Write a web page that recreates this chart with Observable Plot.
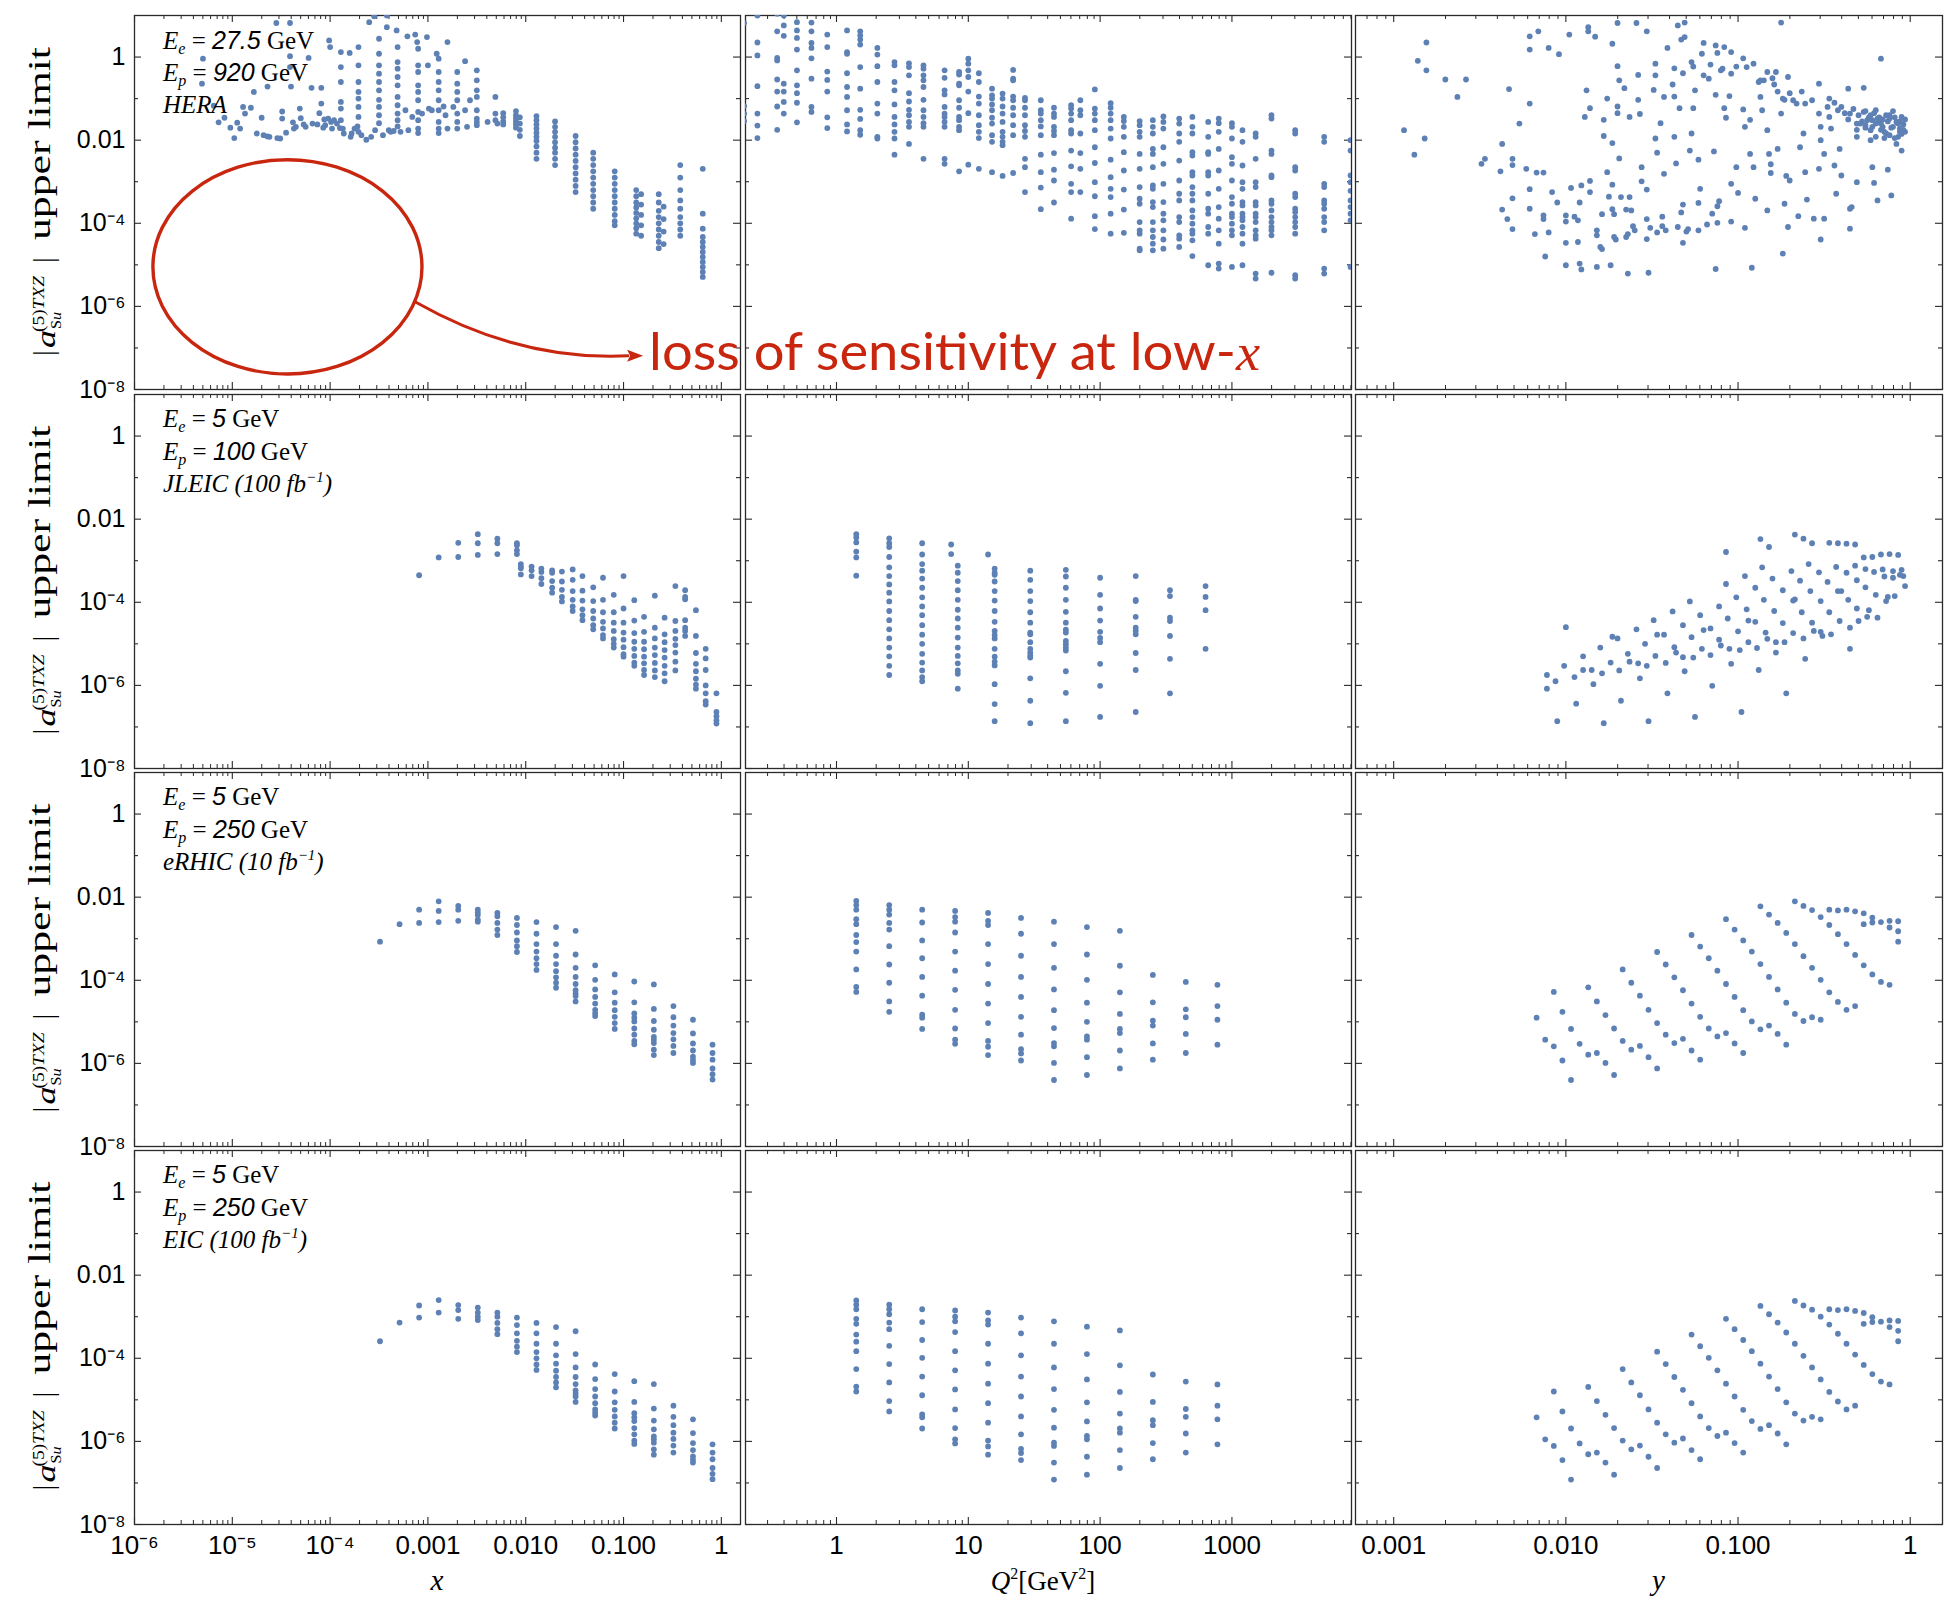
<!DOCTYPE html>
<html><head><meta charset="utf-8">
<script src="https://cdn.jsdelivr.net/npm/d3@7"></script>
<script src="https://cdn.jsdelivr.net/npm/@observablehq/plot@0.6"></script>
<style>
html,body{margin:0;padding:0;background:#fff;}
#root{position:relative;width:1946px;height:1602px;overflow:hidden;background:#fff;}
</style></head><body><div id="root"></div>
<script>
// ---------------- DATA (log10 values) ----------------
// Row 1: HERA  (Ee = 27.5 GeV, Ep = 920 GeV)
const heraXPairs = [[-5.30,-0.04],[-5.31,-0.64],[-5.19,-1.17],[-5.14,-1.57],[-5.08,-1.46],[-5.02,-1.70],[-4.98,-1.95],[-4.95,-1.58],[-4.92,-1.72],[-4.89,-1.20],[-4.87,-1.36],[-4.81,-1.22],[-4.78,-0.84],[-4.75,-1.84],[-4.70,-1.46],[-4.68,-1.88],[-4.64,-0.71],[-4.64,-1.91],[-4.62,-1.92],[-4.55,0.82],[-4.54,-1.95],[-4.51,-1.96],[-4.49,-1.31],[-4.49,-1.48],[-4.45,-1.82],[-4.41,0.82],[-4.41,0.02],[-4.41,-0.24],[-4.40,-0.71],[-4.38,-1.57],[-4.37,-1.72],[-4.35,-1.68],[-4.31,-1.24],[-4.30,-1.47],[-4.27,-1.62],[-4.25,-1.68],[-4.22,-0.02],[-4.19,-0.74],[-4.18,-1.60],[-4.13,-1.62],[-4.11,-1.35],[-4.09,-0.74],[-4.09,-1.12],[-4.07,-1.70],[-4.06,-1.50],[-4.05,-1.64],[-4.02,-1.48],[-4.01,0.40],[-4.00,0.24],[-3.99,-1.56],[-3.98,-1.72],[-3.96,-1.52],[-3.93,-1.60],[-3.90,-1.71],[-3.89,0.12],[-3.89,-0.24],[-3.89,-0.60],[-3.89,-1.08],[-3.89,-1.24],[-3.89,-1.52],[-3.87,-1.72],[-3.86,-1.84],[-3.80,0.10],[-3.79,-1.92],[-3.78,-1.84],[-3.75,-1.72],[-3.72,-1.67],[-3.71,0.24],[-3.71,-0.20],[-3.71,-0.60],[-3.71,-0.84],[-3.71,-1.00],[-3.71,-1.20],[-3.71,-1.44],[-3.71,-1.80],[-3.68,-1.88],[-3.63,-1.99],[-3.60,0.84],[-3.58,-1.92],[-3.55,0.98],[-3.54,-1.76],[-3.50,0.44],[-3.50,0.08],[-3.50,-0.20],[-3.50,-0.40],[-3.50,-0.60],[-3.50,-0.80],[-3.50,-1.03],[-3.50,-1.20],[-3.50,-1.40],[-3.50,-1.59],[-3.46,-1.88],[-3.42,1.00],[-3.42,0.72],[-3.40,-1.76],[-3.38,-1.80],[-3.35,-1.78],[-3.32,0.64],[-3.31,0.24],[-3.31,-0.12],[-3.31,-0.28],[-3.31,-0.48],[-3.31,-0.68],[-3.31,-0.96],[-3.31,-1.16],[-3.31,-1.36],[-3.31,-1.52],[-3.31,-1.67],[-3.28,-1.80],[-3.23,-1.28],[-3.21,0.50],[-3.20,-1.76],[-3.16,-1.44],[-3.13,0.54],[-3.11,0.36],[-3.10,0.20],[-3.10,-0.20],[-3.10,-0.36],[-3.10,-0.68],[-3.10,-0.84],[-3.10,-1.04],[-3.10,-1.32],[-3.10,-1.52],[-3.10,-1.72],[-3.10,-1.83],[-3.06,-1.36],[-3.01,0.48],[-3.00,-0.20],[-2.99,-1.24],[-2.96,-1.28],[-2.91,0.08],[-2.89,-0.04],[-2.89,-0.36],[-2.89,-0.60],[-2.89,-0.80],[-2.89,-1.04],[-2.89,-1.28],[-2.89,-1.56],[-2.89,-1.72],[-2.89,-1.83],[-2.84,-1.19],[-2.80,0.36],[-2.82,-1.40],[-2.80,-1.72],[-2.74,-1.20],[-2.70,-0.36],[-2.70,-0.64],[-2.70,-0.84],[-2.70,-1.04],[-2.70,-1.36],[-2.70,-1.56],[-2.70,-1.72],[-2.62,-0.10],[-2.62,-1.28],[-2.60,-1.68],[-2.57,-1.04],[-2.50,-0.32],[-2.50,-0.56],[-2.50,-0.80],[-2.50,-0.96],[-2.50,-1.28],[-2.50,-1.48],[-2.50,-1.56],[-2.50,-1.64],[-2.39,-1.56],[-2.31,-0.96],[-2.31,-1.36],[-2.31,-1.52],[-2.29,-1.60]];
const heraXCols = [
  [-2.23,[-1.35,-1.45,-1.55,-1.62]],
  [-2.10,[-1.30,-1.40,-1.48,-1.55,-1.62,-1.70]],
  [-2.06,[-1.45,-1.60,-1.75,-1.90]],
  [-1.89,[-1.42,-1.52,-1.62,-1.72,-1.82,-1.92,-2.02,-2.15,-2.30,-2.45]],
  [-1.70,[-1.55,-1.68,-1.80,-1.92,-2.05,-2.18,-2.30,-2.45,-2.60]],
  [-1.49,[-1.90,-2.05,-2.20,-2.35,-2.50,-2.65,-2.80,-2.95,-3.10,-3.25]],
  [-1.31,[-2.30,-2.45,-2.60,-2.75,-2.90,-3.05,-3.20,-3.35,-3.50,-3.65]],
  [-1.09,[-2.75,-2.90,-3.05,-3.20,-3.35,-3.50,-3.65,-3.80,-3.95,-4.05]],
  [-0.87,[-3.20,-3.35,-3.50,-3.62,-3.75,-3.88,-4.00,-4.12,-4.25]],
  [-0.82,[-3.30,-3.55,-3.80,-4.05,-4.30]],
  [-0.64,[-3.30,-3.50,-3.70,-3.85,-4.00,-4.15,-4.30,-4.45,-4.60]],
  [-0.59,[-3.60,-3.90,-4.20,-4.50]],
  [-0.42,[-2.60,-2.90,-3.20,-3.45,-3.65,-3.85,-4.00,-4.15,-4.30]],
  [-0.19,[-2.69,-3.77,-4.13,-4.33,-4.45,-4.57,-4.69,-4.81,-4.93,-5.05,-5.17,-5.29]]
];
const heraQ2Cols = [
  [-0.70,[0.82,-1.18,-1.36,-1.54]],
  [-0.60,[1.00,0.35,0.04,-0.70,-1.36,-1.65,-1.95]],
  [-0.45,[1.04,0.62,-0.02,-0.08,-0.54,-0.83,-1.19,-1.75]],
  [-0.40,[1.00,0.76,0.51,-0.64,-0.83,-1.08,-1.36]],
  [-0.30,[0.84,0.64,0.46,0.18,-0.32,-0.68,-0.87,-1.10,-1.57]],
  [-0.19,[0.83,0.62,0.34,0.22,-0.03,-0.52,-1.20,-1.32]],
  [-0.07,[0.54,0.24,-0.35,-0.55,-0.83,-1.45,-1.71]],
  [0.08,[0.64,0.12,0.08,-0.39,-0.72,-0.96,-1.28,-1.62,-1.79]],
  [0.18,[0.62,0.52,0.42,0.30,-0.24,-0.76,-1.27,-1.49,-1.76,-1.87]],
  [0.31,[0.22,0.06,-0.22,-0.60,-1.12,-1.36,-1.92,-1.96]],
  [0.44,[-0.12,-0.20,-0.60,-0.80,-1.14,-1.44,-1.62,-1.80,-1.96,-2.35]],
  [0.55,[-0.15,-0.24,-0.44,-0.87,-1.07,-1.27,-1.40,-1.56,-1.68,-2.09]],
  [0.66,[-0.20,-0.28,-0.44,-0.56,-0.72,-1.03,-1.28,-1.44,-1.59,-1.68,-2.45]],
  [0.82,[-0.32,-0.50,-0.80,-0.90,-1.20,-1.36,-1.44,-1.56,-1.68,-2.45,-2.57]],
  [0.93,[-0.36,-0.42,-0.64,-0.68,-1.04,-1.22,-1.44,-1.52,-1.68,-1.76,-2.75]],
  [1.00,[-0.04,-0.16,-0.32,-0.48,-0.83,-1.35,-2.59]],
  [1.08,[-0.39,-0.60,-0.95,-1.12,-1.40,-1.64,-1.80,-1.95,-2.69]],
  [1.18,[-0.76,-0.92,-1.00,-1.14,-1.28,-1.46,-1.60,-1.88,-2.04,-2.77]],
  [1.26,[-0.88,-1.00,-1.19,-1.36,-1.56,-1.80,-1.92,-2.04,-2.12,-2.86]],
  [1.34,[-0.31,-0.52,-0.56,-0.95,-1.04,-1.22,-1.40,-1.64,-1.88,-2.79]],
  [1.43,[-0.98,-1.04,-1.22,-1.40,-1.64,-1.78,-1.92,-2.45,-2.65,-3.25]],
  [1.55,[-1.04,-1.28,-1.36,-1.52,-1.67,-1.88,-2.35,-2.77,-3.14,-3.66]],
  [1.65,[-1.22,-1.36,-1.44,-1.68,-1.78,-1.88,-2.31,-2.71,-2.97,-3.50]],
  [1.78,[-1.16,-1.24,-1.36,-1.52,-1.76,-1.84,-2.25,-2.63,-3.05,-3.25,-3.89]],
  [1.85,[-1.04,-1.28,-1.40,-1.84,-2.31,-2.69,-3.25]],
  [1.96,[-0.78,-1.24,-1.36,-1.52,-1.76,-2.17,-2.55,-3.01,-3.35,-3.83,-4.14]],
  [2.08,[-1.11,-1.22,-1.36,-1.52,-1.72,-1.96,-2.47,-2.89,-3.17,-3.37,-3.77,-4.25]],
  [2.18,[-1.44,-1.54,-1.68,-1.92,-2.29,-2.73,-3.19,-3.67,-4.23]],
  [2.30,[-1.54,-1.64,-1.80,-1.92,-2.33,-2.69,-3.13,-3.41,-3.53,-3.97,-4.17,-4.25,-4.61,-4.65]],
  [2.40,[-1.52,-1.68,-1.84,-2.21,-2.33,-2.65,-3.09,-3.17,-3.49,-3.61,-3.97,-4.17,-4.33,-4.49,-4.65]],
  [2.48,[-1.43,-1.56,-1.72,-2.17,-2.57,-3.05,-3.49,-3.77,-3.93,-4.17,-4.39,-4.61]],
  [2.60,[-1.48,-1.60,-1.84,-2.04,-2.49,-2.97,-3.29,-3.45,-3.85,-3.97,-4.29,-4.37,-4.57]],
  [2.70,[-1.44,-1.68,-1.84,-2.29,-2.37,-2.77,-2.85,-3.13,-3.29,-3.45,-3.69,-3.85,-4.01,-4.17,-4.25,-4.41,-4.79]],
  [2.82,[-1.56,-1.92,-2.29,-2.33,-2.77,-2.85,-3.29,-3.65,-3.77,-4.09,-4.25,-5.01]],
  [2.90,[-1.48,-1.59,-1.80,-2.21,-2.73,-3.17,-3.61,-3.89,-4.17,-4.49,-4.97,-5.09]],
  [3.00,[-1.59,-1.68,-1.96,-2.41,-2.57,-2.97,-3.37,-3.53,-3.77,-3.85,-4.01,-4.17,-4.29,-5.05]],
  [3.08,[-1.76,-2.04,-2.61,-3.01,-3.17,-3.49,-3.57,-3.77,-3.85,-3.93,-4.09,-4.25,-4.49,-5.01]],
  [3.18,[-1.84,-1.92,-2.45,-3.01,-3.13,-3.49,-3.57,-3.77,-3.85,-3.97,-4.17,-4.29,-4.37,-5.21,-5.33]],
  [3.30,[-1.40,-1.48,-2.25,-2.33,-2.85,-2.89,-3.45,-3.53,-3.69,-3.85,-3.97,-4.09,-4.17,-4.29,-5.19]],
  [3.48,[-1.76,-1.84,-2.65,-2.73,-3.29,-3.37,-3.65,-3.73,-3.85,-3.97,-4.09,-4.25,-5.25,-5.33]],
  [3.70,[-1.92,-2.04,-3.05,-3.13,-3.45,-3.53,-3.65,-3.85,-3.97,-4.17,-5.09,-5.21]],
  [3.90,[-2.00,-2.25,-2.85,-3.01,-3.22,-3.45,-3.61,-3.77,-3.93,-5.05]]
];
const heraYPairs = [[-2.94,-1.76],[-2.88,-2.35],[-2.86,-0.09],[-2.82,-1.96],[-2.81,-0.32],[-2.81,0.35],[-2.70,-0.54],[-2.63,-0.96],[-2.58,-0.54],[-2.49,-2.57],[-2.47,-2.45],[-2.38,-2.75],[-2.37,-2.09],[-2.37,-3.67],[-2.34,-3.90],[-2.33,-0.77],[-2.31,-2.45],[-2.31,-2.60],[-2.31,-3.40],[-2.31,-4.14],[-2.27,-1.60],[-2.23,-2.69],[-2.21,-1.12],[-2.21,-3.18],[-2.21,-3.65],[-2.21,0.50],[-2.21,0.18],[-2.18,-4.26],[-2.17,-2.78],[-2.16,0.62],[-2.13,-2.78],[-2.13,-3.81],[-2.13,-3.90],[-2.12,-4.80],[-2.10,-4.22],[-2.10,0.22],[-2.08,-3.25],[-2.05,-3.50],[-2.04,0.07],[-2.00,-3.81],[-2.00,-3.96],[-2.00,-4.47],[-2.00,-5.01],[-1.98,0.54],[-1.97,-3.15],[-1.95,-3.84],[-1.93,-3.93],[-1.93,-4.45],[-1.92,-3.50],[-1.92,-4.97],[-1.91,-3.09],[-1.91,-5.11],[-1.89,-1.44],[-1.88,-0.80],[-1.87,0.72],[-1.87,0.62],[-1.86,-1.23],[-1.86,-2.98],[-1.86,-3.25],[-1.83,0.49],[-1.82,-4.17],[-1.82,-4.29],[-1.82,-5.05],[-1.80,-4.57],[-1.79,-3.78],[-1.79,-4.62],[-1.78,-1.90],[-1.78,-1.51],[-1.76,-1.00],[-1.76,-2.77],[-1.75,-3.36],[-1.74,-5.01],[-1.73,0.32],[-1.73,-2.07],[-1.73,-3.07],[-1.73,-3.66],[-1.72,-3.78],[-1.72,-4.33],[-1.71,-4.39],[-1.70,0.82],[-1.70,-0.22],[-1.70,-1.19],[-1.70,-1.35],[-1.69,-0.56],[-1.69,-2.44],[-1.68,-3.37],[-1.66,-0.75],[-1.65,-4.33],[-1.65,-3.67],[-1.64,-5.21],[-1.64,-4.26],[-1.63,-1.44],[-1.63,-3.37],[-1.62,-3.69],[-1.61,-4.07],[-1.60,-4.17],[-1.59,0.82],[-1.58,-1.03],[-1.58,-0.43],[-1.57,-1.37],[-1.56,-2.99],[-1.56,-2.65],[-1.53,0.62],[-1.53,-3.19],[-1.53,-4.38],[-1.52,-5.19],[-1.53,-3.90],[-1.51,-4.11],[-1.49,-0.79],[-1.48,-0.16],[-1.48,-0.44],[-1.48,-1.96],[-1.47,-2.30],[-1.47,-4.22],[-1.45,-1.59],[-1.44,-4.07],[-1.44,-3.84],[-1.43,-2.81],[-1.43,-0.96],[-1.42,-4.17],[-1.41,0.22],[-1.38,-0.66],[-1.37,-0.95],[-1.37,-1.92],[-1.37,-0.27],[-1.36,-2.56],[-1.35,-4.09],[-1.35,0.76],[-1.34,-1.23],[-1.33,0.42],[-1.33,-3.74],[-1.32,-4.47],[-1.32,-0.39],[-1.32,-3.55],[-1.31,0.83],[-1.31,0.48],[-1.30,-4.20],[-1.29,-4.14],[-1.28,-2.25],[-1.27,-0.12],[-1.27,-1.84],[-1.26,-1.23],[-1.26,-0.23],[-1.25,-0.80],[-1.23,-2.47],[-1.23,-3.51],[-1.23,-4.17],[-1.22,-3.17],[-1.21,0.08],[-1.20,-0.44],[-1.20,0.34],[-1.18,-4.03],[-1.17,-0.52],[-1.16,-0.18],[-1.15,-3.77],[-1.14,-2.27],[-1.13,-0.91],[-1.13,-5.10],[-1.13,0.28],[-1.12,0.10],[-1.12,-3.59],[-1.12,-3.99],[-1.11,-3.47],[-1.10,-0.32],[-1.09,-0.28],[-1.08,-1.23],[-1.08,0.24],[-1.07,-1.46],[-1.05,-0.94],[-1.04,0.12],[-1.04,-0.40],[-1.04,-3.96],[-1.04,-3.05],[-1.01,-0.23],[-1.01,-2.65],[-1.00,-3.27],[-0.97,-0.03],[-0.97,-1.26],[-0.96,-1.68],[-0.96,-4.11],[-0.95,-0.24],[-0.93,-1.51],[-0.93,-2.33],[-0.92,-5.07],[-0.91,-0.16],[-0.91,-2.65],[-0.90,-3.41],[-0.88,-0.60],[-0.87,-0.56],[-0.87,-0.96],[-0.86,-1.28],[-0.85,-0.56],[-0.83,-1.76],[-0.83,-0.36],[-0.83,-3.69],[-0.82,-2.33],[-0.81,-2.58],[-0.81,-2.79],[-0.80,-0.51],[-0.79,-0.66],[-0.78,-0.36],[-0.77,-0.83],[-0.77,-2.21],[-0.75,-1.36],[-0.75,0.83],[-0.74,-4.73],[-0.74,-1.00],[-0.73,-3.53],[-0.73,-1.03],[-0.72,-2.86],[-0.71,-0.48],[-0.70,-2.97],[-0.71,-4.09],[-0.70,-0.87],[-0.68,-1.04],[-0.66,-1.12],[-0.65,-3.83],[-0.64,-2.17],[-0.63,-0.83],[-0.62,-1.84],[-0.61,-2.77],[-0.61,-1.12],[-0.60,-3.43],[-0.57,-1.04],[-0.56,-3.89],[-0.53,-2.69],[-0.53,-0.64],[-0.53,-1.36],[-0.52,-2.00],[-0.52,-4.39],[-0.52,-1.68],[-0.50,-2.33],[-0.50,-3.89],[-0.48,-1.20],[-0.47,-1.44],[-0.46,-1.72],[-0.44,-2.61],[-0.43,-3.29],[-0.42,-1.28],[-0.41,-2.21],[-0.40,-2.85],[-0.36,-0.76],[-0.35,-1.36],[-0.35,-3.65],[-0.35,-4.13],[-0.34,-3.61],[-0.31,-1.60],[-0.31,-1.92],[-0.31,-3.01],[-0.27,-1.32],[-0.27,-0.74],[-0.26,-1.64],[-0.23,-1.76],[-0.23,-2.00],[-0.22,-2.65],[-0.21,-3.03],[-0.20,-1.28],[-0.19,-3.45],[-0.17,-0.04],[-0.17,-1.60],[-0.14,-1.84],[-0.13,-2.71],[-0.12,-1.48],[-0.11,-3.33],[-0.10,-1.68],[-0.08,-2.09],[-0.06,-1.80],[-0.05,-2.25],[-0.05,-1.44],[-0.23,-1.40],[-0.19,-1.48],[-0.16,-1.68],[-0.08,-1.56],[-0.14,-1.40],[-0.25,-1.52],[-0.22,-1.68],[-0.29,-1.60],[-0.20,-1.92],[-0.12,-1.88],[-0.07,-1.92],[-0.10,-1.30],[-0.04,-1.62],[-0.06,-1.72],[-0.18,-1.56],[-0.15,-1.80],[-0.03,-1.50],[-0.33,-1.25],[-0.30,-1.40],[-0.28,-1.55],[-0.26,-1.30],[-0.24,-1.45],[-0.21,-1.35],[-0.18,-1.45],[-0.17,-1.75],[-0.13,-1.55],[-0.11,-1.70],[-0.09,-1.45],[-0.07,-1.60],[-0.05,-1.85],[-0.04,-1.75],[-0.09,-1.95],[-0.15,-1.95],[-0.20,-1.60],[-0.26,-1.70],[-0.31,-1.75],[-0.36,-1.50],[-0.38,-1.35],[-0.40,-1.20],[-0.44,-1.10],[-0.47,-1.00],[-0.12,-1.40],[-0.06,-1.55],[-0.03,-1.80],[-0.16,-1.50],[-0.22,-1.52]];

// Row 2: JLEIC (Ee = 5 GeV, Ep = 100 GeV, 100 fb^-1)
const jleicXCols = [
  [-3.09,[-3.35]],[-2.89,[-2.92]],[-2.69,[-2.57,-2.91]],[-2.49,[-2.36,-2.58,-2.86]],
  [-2.29,[-2.47,-2.58,-2.84]],[-2.09,[-2.58,-2.63,-2.75,-2.84]],[-2.05,[-3.08,-3.14,-3.18,-3.33]],
  [-1.94,[-3.14,-3.23,-3.37]],[-1.84,[-3.19,-3.27,-3.42,-3.56]],[-1.73,[-3.23,-3.29,-3.49,-3.65,-3.77]],
  [-1.63,[-3.26,-3.50,-3.70,-3.87,-3.98]],[-1.52,[-3.21,-3.46,-3.73,-3.94,-4.10,-4.21]],
  [-1.42,[-3.37,-3.72,-3.96,-4.17,-4.31,-4.43]],[-1.31,[-3.64,-3.97,-4.21,-4.39,-4.55,-4.65]],
  [-1.21,[-3.41,-3.94,-4.24,-4.47,-4.63,-4.79,-4.87]],[-1.10,[-3.82,-4.24,-4.49,-4.69,-4.89,-5.00,-5.09]],
  [-1.00,[-3.37,-4.15,-4.49,-4.73,-4.90,-5.08,-5.25,-5.31]],[-0.89,[-3.95,-4.44,-4.74,-4.95,-5.12,-5.29,-5.45,-5.53]],
  [-0.79,[-4.35,-4.71,-4.95,-5.13,-5.31,-5.47,-5.63,-5.75]],[-0.68,[-3.84,-4.61,-4.87,-5.09,-5.27,-5.46,-5.64,-5.80]],
  [-0.58,[-4.37,-4.77,-4.96,-5.15,-5.33,-5.53,-5.71,-5.90]],[-0.47,[-3.61,-4.45,-4.69,-4.88,-5.03,-5.21,-5.43,-5.64]],
  [-0.37,[-3.71,-3.87,-3.93,-4.43,-4.61,-4.69,-4.81]],[-0.26,[-4.19,-4.81,-5.22,-5.48,-5.66,-5.84,-5.98,-6.08]],
  [-0.16,[-5.12,-5.35,-5.63,-6.00,-6.19,-6.38,-6.46]],[-0.05,[-6.19,-6.64,-6.74,-6.84,-6.92]]
];
const jleicQ2Cols = [
  [0.15,[-2.36,-2.44,-2.56,-2.78,-2.92,-3.36]],
  [0.40,[-2.46,-2.58,-2.67,-2.91,-3.16,-3.37,-3.57,-3.77,-3.98,-4.21,-4.43,-4.65,-4.87,-5.09,-5.30,-5.53,-5.75]],
  [0.65,[-2.58,-2.85,-3.08,-3.24,-3.43,-3.65,-3.88,-4.10,-4.31,-4.55,-4.78,-5.00,-5.24,-5.45,-5.64,-5.80,-5.90]],
  [0.87,[-2.61,-2.84]],
  [0.92,[-3.12,-3.29,-3.49,-3.71,-3.94,-4.18,-4.39,-4.61,-4.85,-5.09,-5.29,-5.47,-5.64,-5.72,-6.08]],
  [1.15,[-2.85]],
  [1.20,[-3.19,-3.29,-3.34,-3.50,-3.73,-3.96,-4.21,-4.47,-4.69,-4.79,-4.87,-5.12,-5.31,-5.43,-5.52,-5.97,-6.45,-6.86]],
  [1.47,[-3.24,-3.46,-3.73,-3.97,-4.24,-4.49,-4.73,-4.77,-4.96,-5.12,-5.21,-5.28,-5.33,-5.83,-6.37,-6.91]],
  [1.74,[-3.22,-3.38,-3.65,-3.94,-4.23,-4.49,-4.66,-4.73,-4.93,-5.01,-5.09,-5.16,-5.66,-6.18,-6.86]],
  [2.00,[-3.41,-3.82,-4.15,-4.44,-4.71,-4.86,-4.96,-5.48,-6.01,-6.76]],
  [2.27,[-3.37,-3.94,-3.97,-4.35,-4.61,-4.69,-4.77,-5.22,-5.63,-6.64]],
  [2.53,[-3.71,-3.85,-4.37,-4.45,-4.81,-5.36,-6.19]],
  [2.80,[-3.61,-3.87,-4.19,-5.12]]
];
const jleicYPairs = [[-2.11,-5.75],[-2.11,-6.08],[-2.06,-5.90],[-2.05,-6.86],[-2.01,-5.53],[-2.00,-4.60],[-1.95,-5.80],[-1.94,-6.44],[-1.90,-5.30],[-1.90,-5.63],[-1.85,-5.63],[-1.84,-5.97],[-1.80,-5.09],[-1.79,-5.71],[-1.78,-6.91],[-1.74,-5.45],[-1.73,-4.83],[-1.70,-4.87],[-1.69,-5.64],[-1.68,-6.37],[-1.64,-5.24],[-1.63,-5.43],[-1.59,-4.65],[-1.58,-5.47],[-1.57,-5.83],[-1.54,-5.00],[-1.53,-5.53],[-1.52,-6.86],[-1.49,-4.43],[-1.48,-5.29],[-1.47,-4.78],[-1.43,-4.78],[-1.42,-5.46],[-1.41,-6.19],[-1.38,-4.22],[-1.37,-5.08],[-1.36,-5.21],[-1.32,-4.55],[-1.32,-5.32],[-1.31,-5.66],[-1.28,-3.98],[-1.27,-4.84],[-1.26,-5.33],[-1.25,-6.76],[-1.22,-4.31],[-1.21,-5.12],[-1.20,-4.67],[-1.16,-4.63],[-1.16,-5.27],[-1.15,-6.01],[-1.11,-4.10],[-1.11,-4.90],[-1.10,-5.04],[-1.07,-2.79],[-1.07,-3.56],[-1.06,-4.39],[-1.05,-5.12],[-1.04,-5.48],[-1.01,-3.88],[-1.00,-4.70],[-0.99,-5.15],[-0.98,-6.64],[-0.96,-3.37],[-0.95,-4.17],[-0.94,-4.96],[-0.94,-4.44],[-0.90,-3.65],[-0.90,-4.47],[-0.89,-5.10],[-0.88,-5.63],[-0.87,-2.48],[-0.86,-3.16],[-0.85,-3.94],[-0.84,-4.73],[-0.83,-4.88],[-0.82,-2.67],[-0.80,-3.43],[-0.79,-4.21],[-0.78,-4.96],[-0.78,-5.21],[-0.74,-3.71],[-0.74,-4.50],[-0.73,-4.96],[-0.72,-6.19],[-0.69,-3.25],[-0.68,-3.96],[-0.68,-4.74],[-0.67,-3.93],[-0.64,-3.48],[-0.63,-4.24],[-0.62,-4.87],[-0.61,-5.36],[-0.59,-3.08],[-0.58,-3.73],[-0.57,-4.49],[-0.56,-4.69],[-0.53,-3.28],[-0.52,-3.97],[-0.52,-4.71],[-0.51,-4.81],[-0.48,-3.51],[-0.47,-4.24],[-0.46,-4.77],[-0.43,-3.15],[-0.42,-3.73],[-0.41,-4.45],[-0.40,-3.73],[-0.37,-3.29],[-0.36,-3.94],[-0.35,-4.61],[-0.35,-5.12],[-0.32,-3.12],[-0.31,-3.47],[-0.31,-4.15],[-0.30,-4.45],[-0.27,-2.92],[-0.26,-3.20],[-0.26,-3.64],[-0.25,-4.35],[-0.24,-4.19],[-0.22,-2.91],[-0.21,-3.27],[-0.20,-3.82],[-0.19,-4.37],[-0.17,-2.85],[-0.16,-3.21],[-0.15,-3.38],[-0.14,-3.97],[-0.13,-3.87],[-0.12,-2.84],[-0.10,-3.25],[-0.10,-3.41],[-0.09,-3.85],[-0.07,-2.86],[-0.06,-3.34],[-0.05,-3.22],[-0.04,-3.37],[-0.03,-3.61],[-0.67,-2.37],[-0.62,-2.47],[-0.57,-2.58],[-0.47,-2.57],[-0.42,-2.58],[-0.37,-2.59],[-0.32,-2.61]];

// Row 3: eRHIC (Ee = 5 GeV, Ep = 250 GeV, 10 fb^-1)
const erhicXCols = [
  [-3.49,[-3.07]],[-3.29,[-2.65]],[-3.09,[-2.30,-2.62]],[-2.89,[-2.10,-2.33,-2.60]],
  [-2.69,[-2.21,-2.30,-2.57]],[-2.49,[-2.30,-2.37,-2.43,-2.54,-2.59]],[-2.29,[-2.38,-2.46,-2.62,-2.78,-2.91]],
  [-2.09,[-2.50,-2.67,-2.85,-3.04,-3.18,-3.32]],[-1.89,[-2.60,-2.88,-3.13,-3.31,-3.47,-3.61,-3.75]],
  [-1.69,[-2.72,-3.13,-3.41,-3.61,-3.78,-3.93,-4.06,-4.18]],[-1.49,[-2.81,-3.38,-3.70,-3.92,-4.09,-4.24,-4.32,-4.38,-4.51]],
  [-1.29,[-3.64,-3.99,-4.22,-4.40,-4.56,-4.71,-4.79,-4.86]],[-1.09,[-3.86,-4.29,-4.54,-4.72,-4.88,-5.03,-5.17]],
  [-0.89,[-4.03,-4.53,-4.80,-4.90,-4.99,-5.16,-5.31,-5.46,-5.54]],[-0.69,[-4.10,-4.69,-4.98,-5.19,-5.36,-5.43,-5.51,-5.67,-5.80]],
  [-0.49,[-4.62,-4.89,-5.09,-5.27,-5.42,-5.58,-5.75]],[-0.29,[-4.95,-5.28,-5.52,-5.69,-5.84,-5.92,-5.99]],
  [-0.09,[-5.55,-5.75,-5.91,-6.12,-6.26,-6.39]]
];
const erhicQ2Cols = [
  [0.15,[-2.09,-2.19,-2.30,-2.53,-2.65,-2.91,-3.08,-3.31,-3.74,-4.16,-4.28]],
  [0.40,[-2.19,-2.30,-2.42,-2.62,-2.78,-3.18,-3.62,-4.06,-4.51,-4.76]],
  [0.65,[-2.30,-2.61,-3.04,-3.47,-3.92,-4.37,-4.83,-4.90,-5.17]],
  [0.90,[-2.33,-2.48,-2.59,-2.85,-3.31,-3.77,-4.23,-4.71,-5.16,-5.43,-5.53]],
  [1.15,[-2.38,-2.57,-2.67,-3.13,-3.61,-4.09,-4.56,-5.03,-5.46,-5.60,-5.80]],
  [1.40,[-2.50,-2.88,-3.41,-3.92,-4.40,-4.88,-5.31,-5.66,-5.76,-5.93]],
  [1.65,[-2.59,-3.13,-3.70,-4.22,-4.72,-5.15,-5.51,-5.59,-5.99,-6.40]],
  [1.90,[-2.72,-3.38,-3.99,-4.54,-5.00,-5.35,-5.43,-5.85,-6.28]],
  [2.15,[-2.81,-3.65,-4.29,-4.81,-5.17,-5.27,-5.69,-6.12]],
  [2.40,[-3.87,-4.53,-4.97,-5.09,-5.52,-5.91]],
  [2.65,[-4.04,-4.70,-4.89,-5.29,-5.75]],
  [2.89,[-4.11,-4.62,-4.95,-5.55]]
];
const erhicYPairs = [[-2.17,-4.90],[-2.12,-5.43],[-2.07,-4.28],[-2.07,-5.59],[-2.02,-4.76],[-2.02,-5.93],[-1.97,-5.17],[-1.97,-6.40],[-1.92,-5.53],[-1.87,-4.17],[-1.87,-5.79],[-1.82,-4.51],[-1.82,-5.75],[-1.77,-4.84],[-1.77,-5.99],[-1.72,-5.16],[-1.72,-6.28],[-1.67,-3.74],[-1.67,-5.46],[-1.62,-4.06],[-1.62,-5.67],[-1.57,-4.37],[-1.57,-5.58],[-1.52,-4.71],[-1.52,-5.85],[-1.47,-3.32],[-1.47,-5.03],[-1.47,-6.12],[-1.42,-3.62],[-1.42,-5.31],[-1.37,-3.93],[-1.37,-5.51],[-1.32,-4.24],[-1.32,-5.41],[-1.27,-2.91],[-1.27,-4.56],[-1.27,-5.69],[-1.22,-3.19],[-1.22,-4.88],[-1.22,-5.91],[-1.17,-3.47],[-1.17,-5.16],[-1.12,-3.77],[-1.12,-5.35],[-1.07,-2.53],[-1.07,-4.09],[-1.07,-5.27],[-1.02,-2.78],[-1.02,-4.40],[-1.02,-5.52],[-0.97,-3.04],[-0.97,-4.72],[-0.97,-5.75],[-0.92,-3.31],[-0.92,-4.99],[-0.87,-2.22],[-0.87,-3.61],[-0.87,-5.18],[-0.82,-2.42],[-0.82,-3.92],[-0.82,-5.09],[-0.77,-2.62],[-0.77,-4.22],[-0.77,-5.29],[-0.72,-2.86],[-0.72,-4.54],[-0.72,-5.55],[-0.67,-2.10],[-0.67,-3.13],[-0.67,-4.81],[-0.62,-2.21],[-0.62,-3.42],[-0.62,-4.98],[-0.57,-2.31],[-0.57,-3.70],[-0.57,-4.89],[-0.52,-2.48],[-0.52,-3.99],[-0.52,-4.95],[-0.47,-2.30],[-0.47,-2.67],[-0.47,-4.29],[-0.42,-2.32],[-0.42,-2.89],[-0.42,-4.52],[-0.37,-2.30],[-0.37,-3.13],[-0.37,-4.71],[-0.32,-2.34],[-0.32,-3.39],[-0.32,-4.62],[-0.27,-2.39],[-0.27,-2.65],[-0.27,-3.64],[-0.22,-2.49],[-0.22,-2.61],[-0.22,-3.86],[-0.17,-2.60],[-0.17,-4.04],[-0.12,-2.57],[-0.12,-2.73],[-0.12,-4.11],[-0.07,-2.58],[-0.07,-2.82],[-0.07,-3.07]];

// Row 4: EIC (Ee = 5 GeV, Ep = 250 GeV, 100 fb^-1)
const eicXCols = [
  [-3.49,[-3.59]],[-3.29,[-3.14]],[-3.09,[-2.73,-3.02]],[-2.89,[-2.60,-2.90]],
  [-2.69,[-2.72,-2.84,-3.05]],[-2.49,[-2.78,-2.90,-3.00,-3.08]],[-2.29,[-2.90,-3.00,-3.15,-3.30,-3.42]],
  [-2.09,[-3.02,-3.20,-3.40,-3.58,-3.72,-3.85]],[-1.89,[-3.15,-3.40,-3.65,-3.85,-4.00,-4.15,-4.28]],
  [-1.69,[-3.25,-3.65,-3.93,-4.13,-4.30,-4.45,-4.58,-4.70]],[-1.49,[-3.35,-3.90,-4.22,-4.45,-4.62,-4.77,-4.85,-4.92,-5.05]],
  [-1.29,[-4.15,-4.50,-4.74,-4.92,-5.08,-5.23,-5.31,-5.38]],[-1.09,[-4.38,-4.80,-5.06,-5.24,-5.40,-5.55,-5.69]],
  [-0.89,[-4.55,-5.05,-5.32,-5.42,-5.51,-5.68,-5.83,-5.98,-6.06]],[-0.69,[-4.62,-5.21,-5.50,-5.71,-5.88,-5.95,-6.03,-6.19,-6.32]],
  [-0.49,[-5.14,-5.41,-5.61,-5.79,-5.94,-6.10,-6.27]],[-0.29,[-5.47,-5.80,-6.04,-6.21,-6.36,-6.44,-6.51]],
  [-0.09,[-6.07,-6.27,-6.43,-6.64,-6.78,-6.91]]
];
const eicQ2Cols = [
  [0.15,[-2.61,-2.71,-2.82,-3.05,-3.17,-3.43,-3.60,-3.83,-4.26,-4.68,-4.80]],
  [0.40,[-2.71,-2.82,-2.94,-3.14,-3.30,-3.70,-4.14,-4.58,-5.03,-5.28]],
  [0.65,[-2.82,-3.13,-3.56,-3.99,-4.44,-4.89,-5.35,-5.42,-5.69]],
  [0.90,[-2.85,-3.00,-3.11,-3.37,-3.83,-4.29,-4.75,-5.23,-5.68,-5.95,-6.05]],
  [1.15,[-2.90,-3.09,-3.19,-3.65,-4.13,-4.61,-5.08,-5.55,-5.98,-6.12,-6.32]],
  [1.40,[-3.02,-3.40,-3.93,-4.44,-4.92,-5.40,-5.83,-6.18,-6.28,-6.45]],
  [1.65,[-3.11,-3.65,-4.22,-4.74,-5.24,-5.67,-6.03,-6.11,-6.51,-6.92]],
  [1.90,[-3.24,-3.90,-4.51,-5.06,-5.52,-5.87,-5.95,-6.37,-6.80]],
  [2.15,[-3.33,-4.17,-4.81,-5.33,-5.69,-5.79,-6.21,-6.64]],
  [2.40,[-4.39,-5.05,-5.49,-5.61,-6.04,-6.43]],
  [2.65,[-4.56,-5.22,-5.41,-5.81,-6.27]],
  [2.89,[-4.63,-5.14,-5.47,-6.07]]
];
const eicYPairs = [[-2.17,-5.42],[-2.12,-5.95],[-2.07,-4.80],[-2.07,-6.11],[-2.02,-5.28],[-2.02,-6.45],[-1.97,-5.69],[-1.97,-6.92],[-1.92,-6.05],[-1.87,-4.69],[-1.87,-6.31],[-1.82,-5.03],[-1.82,-6.27],[-1.77,-5.36],[-1.77,-6.51],[-1.72,-5.68],[-1.72,-6.80],[-1.67,-4.26],[-1.67,-5.98],[-1.62,-4.58],[-1.62,-6.19],[-1.57,-4.89],[-1.57,-6.10],[-1.52,-5.23],[-1.52,-6.37],[-1.47,-3.84],[-1.47,-5.55],[-1.47,-6.64],[-1.42,-4.14],[-1.42,-5.83],[-1.37,-4.45],[-1.37,-6.03],[-1.32,-4.76],[-1.32,-5.93],[-1.27,-3.43],[-1.27,-5.08],[-1.27,-6.21],[-1.22,-3.71],[-1.22,-5.40],[-1.22,-6.43],[-1.17,-3.99],[-1.17,-5.68],[-1.12,-4.29],[-1.12,-5.87],[-1.07,-3.05],[-1.07,-4.61],[-1.07,-5.79],[-1.02,-3.30],[-1.02,-4.92],[-1.02,-6.04],[-0.97,-3.56],[-0.97,-5.24],[-0.97,-6.27],[-0.92,-3.83],[-0.92,-5.51],[-0.87,-2.74],[-0.87,-4.13],[-0.87,-5.70],[-0.82,-2.94],[-0.82,-4.44],[-0.82,-5.61],[-0.77,-3.14],[-0.77,-4.74],[-0.77,-5.81],[-0.72,-3.38],[-0.72,-5.06],[-0.72,-6.07],[-0.67,-2.62],[-0.67,-3.65],[-0.67,-5.33],[-0.62,-2.73],[-0.62,-3.94],[-0.62,-5.50],[-0.57,-2.83],[-0.57,-4.22],[-0.57,-5.41],[-0.52,-3.00],[-0.52,-4.51],[-0.52,-5.47],[-0.47,-2.82],[-0.47,-3.19],[-0.47,-4.81],[-0.42,-2.84],[-0.42,-3.41],[-0.42,-5.04],[-0.37,-2.82],[-0.37,-3.65],[-0.37,-5.23],[-0.32,-2.86],[-0.32,-3.91],[-0.32,-5.14],[-0.27,-2.91],[-0.27,-3.17],[-0.27,-4.16],[-0.22,-3.01],[-0.22,-3.13],[-0.22,-4.38],[-0.17,-3.12],[-0.17,-4.56],[-0.12,-3.09],[-0.12,-3.25],[-0.12,-4.63],[-0.07,-3.10],[-0.07,-3.34],[-0.07,-3.59]];

// Axis tick values and labels
const yMajorTicks = [1e-8, 1e-6, 1e-4, 1e-2, 1];
const yMajorLabels = ["10\u207B\u2078", "10\u207B\u2076", "10\u207B\u2074", "0.01", "1"];
const yMinorTicks = [1e-7, 1e-5, 1e-3, 1e-1];
const xMajorTicks = [[1e-6, 1e-5, 1e-4, 1e-3, 1e-2, 1e-1, 1], [1, 10, 100, 1000], [1e-3, 1e-2, 1e-1, 1]];
const xMajorLabels = [["10\u207B\u2076", "10\u207B\u2075", "10\u207B\u2074", "0.001", "0.010", "0.100", "1"], ["1", "10", "100", "1000"], ["0.001", "0.010", "0.100", "1"]];
const xTitles = ["x", "Q2", "y"];
const rowInfo = [
  {Ee: "27.5", Ep: "920", name: "HERA", lumi: null},
  {Ee: "5", Ep: "100", name: "JLEIC", lumi: "100"},
  {Ee: "5", Ep: "250", name: "eRHIC", lumi: "10"},
  {Ee: "5", Ep: "250", name: "EIC", lumi: "100"}
];

// ---------------- LAYOUT ----------------
const root = document.getElementById("root");
const rowTop = [15, 393.5, 771.5, 1149.5];
const PH = 374;
const colLeft = [134, 745, 1355];
const colW = [606, 606, 587];
const xDomains = [[1e-6, 1.57], [0.204, 8075], [6e-4, 1.54]];
const yDomain = [1e-8, 10];
const DOT = "#5E81B5";
const INK = "#2a2a2a";
const RED = "#c9260f";
const SANS = "Liberation Sans, Arial, sans-serif";
const SERIF = "Liberation Serif, Times New Roman, serif";

function fromCols(cols) { const out = []; for (const [lx, vs] of cols) for (const lv of vs) out.push({x: 10 ** lx, v: 10 ** lv}); return out; }
function fromPairs(pairs) { return pairs.map(([lx, lv]) => ({x: 10 ** lx, v: 10 ** lv})); }
function minorTicks(dom) {
  const out = [];
  for (let e = Math.floor(Math.log10(dom[0])) - 1; e <= Math.ceil(Math.log10(dom[1])); e++)
    for (let m = 2; m <= 9; m++) { const t = m * 10 ** e; if (t > dom[0] * 1.0001 && t < dom[1] * 0.9999) out.push(t); }
  return out;
}

const panels = [
  [fromPairs(heraXPairs).concat(fromCols(heraXCols)), fromCols(heraQ2Cols), fromPairs(heraYPairs)],
  [fromCols(jleicXCols), fromCols(jleicQ2Cols), fromPairs(jleicYPairs)],
  [fromCols(erhicXCols), fromCols(erhicQ2Cols), fromPairs(erhicYPairs)],
  [fromCols(eicXCols), fromCols(eicQ2Cols), fromPairs(eicYPairs)]
];

const plots = [];
for (let r = 0; r < 4; r++) {
  plots.push([]);
  for (let c = 0; c < 3; c++) {
    const W = colW[c], H = PH;
    const mL = c === 0 ? 110 : 1, mR = 1, mT = 1, mB = r === 3 ? 45 : 1;
    const xMaj = xMajorTicks[c], xMin = minorTicks(xDomains[c]);
    const marks = [
      Plot.frame({stroke: INK, strokeWidth: 1.3}),
      Plot.tickY(yMajorTicks, {y: d => d, insetRight: W - 7, stroke: INK, strokeWidth: 1.1}),
      Plot.tickY(yMinorTicks, {y: d => d, insetRight: W - 4, stroke: INK, strokeWidth: 1.1}),
      Plot.tickY(yMajorTicks, {y: d => d, insetLeft: W - 7, stroke: INK, strokeWidth: 1.1}),
      Plot.tickY(yMinorTicks, {y: d => d, insetLeft: W - 4, stroke: INK, strokeWidth: 1.1}),
      Plot.tickX(xMaj, {x: d => d, insetTop: H - 7, stroke: INK, strokeWidth: 1.1}),
      Plot.tickX(xMin, {x: d => d, insetTop: H - 4, stroke: INK, strokeWidth: 1}),
      Plot.tickX(xMaj, {x: d => d, insetBottom: H - 7, stroke: INK, strokeWidth: 1.1}),
      Plot.tickX(xMin, {x: d => d, insetBottom: H - 4, stroke: INK, strokeWidth: 1}),
      Plot.dot(panels[r][c], {x: "x", y: "v", r: 2.9, fill: DOT, clip: true})
    ];
    if (c === 0) {
      const lab = yMajorTicks.map((t, i) => ({t, s: yMajorLabels[i]}));
      marks.push(Plot.text(lab, {y: "t", text: "s", frameAnchor: "left", textAnchor: "end", dx: -9, fontSize: 25, fontFamily: SANS, fill: "#000"}));
    }
    if (r === 3) {
      const lab = xMaj.map((t, i) => ({t, s: xMajorLabels[c][i]}));
      marks.push(Plot.text(lab, {x: "t", text: "s", frameAnchor: "bottom", lineAnchor: "top", dy: 11, fontSize: 26, fontFamily: SANS, fill: "#000"}));
    }
    const p = Plot.plot({
      width: W + mL + mR, height: H + mT + mB,
      marginLeft: mL, marginRight: mR, marginTop: mT, marginBottom: mB,
      x: {type: "log", domain: xDomains[c], axis: null},
      y: {type: "log", domain: yDomain, axis: null},
      style: {background: "transparent", overflow: "visible"},
      marks
    });
    p.style.position = "absolute";
    p.style.left = (colLeft[c] - mL) + "px";
    p.style.top = (rowTop[r] - mT) + "px";
    p.style.maxWidth = "none";
    root.appendChild(p);
    plots[r].push({p, mL, mT, left: colLeft[c] - mL, top: rowTop[r] - mT});
  }
}

// ---------------- OVERLAY TEXT & ANNOTATIONS ----------------
const svg = d3.select(root).append("svg")
  .attr("width", 1946).attr("height", 1602)
  .style("position", "absolute").style("left", "0px").style("top", "0px")
  .style("pointer-events", "none");

for (let r = 0; r < 4; r++) {
  const cy = rowTop[r] + PH / 2;
  const g = svg.append("g").attr("transform", `translate(0,${cy}) rotate(-90)`)
    .attr("font-family", SERIF).attr("fill", "#000");
  g.append("text").attr("x", -151).attr("y", 53).attr("font-size", 29).attr("text-anchor", "middle").text("|");
  g.append("text").attr("x", -146).attr("y", 55).attr("font-size", 27).attr("font-style", "italic")
    .attr("textLength", 18).attr("lengthAdjust", "spacingAndGlyphs").text("a");
  const sup = g.append("text").attr("x", -130).attr("y", 44).attr("font-size", 16)
    .attr("textLength", 56).attr("lengthAdjust", "spacingAndGlyphs");
  sup.append("tspan").text("(5)");
  sup.append("tspan").attr("font-style", "italic").text("TXZ");
  const sub = g.append("text").attr("x", -127).attr("y", 61).attr("font-size", 15)
    .attr("textLength", 17).attr("lengthAdjust", "spacingAndGlyphs");
  sub.append("tspan").text("S");
  sub.append("tspan").attr("font-style", "italic").text("u");
  g.append("text").attr("x", -58).attr("y", 53).attr("font-size", 29).attr("text-anchor", "middle").text("|");
  g.append("text").attr("x", -38).attr("y", 50).attr("font-size", 31)
    .attr("textLength", 193).attr("lengthAdjust", "spacingAndGlyphs").text("upper limit");
}

for (let r = 0; r < 4; r++) {
  const info = rowInfo[r];
  const x0 = 163, T = rowTop[r];
  const g = svg.append("g").attr("font-family", SERIF).attr("fill", "#000").attr("font-size", 25);
  const lines = [["e", info.Ee], ["p", info.Ep]];
  lines.forEach(([s, val], i) => {
    const t = g.append("text").attr("x", x0).attr("y", T + 33.5 + i * 32.5);
    t.append("tspan").attr("font-style", "italic").text("E");
    t.append("tspan").attr("font-style", "italic").attr("font-size", 16).attr("dy", 5).text(s);
    t.append("tspan").attr("dy", -5).text(" = ");
    t.append("tspan").attr("font-family", SANS).attr("font-style", "italic").text(val);
    t.append("tspan").text(" GeV");
  });
  const t3 = g.append("text").attr("x", x0).attr("y", T + 98).attr("font-style", "italic");
  if (info.lumi === null) {
    t3.text(info.name);
  } else {
    t3.append("tspan").text(`${info.name} (${info.lumi} fb`);
    t3.append("tspan").attr("font-size", 15).attr("dy", -10).text("\u2212" + "1");
    t3.append("tspan").attr("dy", 10).text(")");
  }
}

const xt = svg.append("g").attr("font-family", SERIF).attr("fill", "#000");
xt.append("text").attr("x", colLeft[0] + colW[0] / 2).attr("y", 1590).attr("font-size", 29)
  .attr("font-style", "italic").attr("text-anchor", "middle").text(xTitles[0]);
const qt = xt.append("text").attr("x", colLeft[1] + colW[1] / 2 - 5).attr("y", 1590).attr("font-size", 27).attr("text-anchor", "middle");
qt.append("tspan").attr("font-style", "italic").text("Q");
qt.append("tspan").attr("font-size", 16).attr("dy", -11).text("2");
qt.append("tspan").attr("dy", 11).text("[GeV");
qt.append("tspan").attr("font-size", 16).attr("dy", -11).text("2");
qt.append("tspan").attr("dy", 11).text("]");
xt.append("text").attr("x", colLeft[2] + colW[2] / 2 + 10).attr("y", 1590).attr("font-size", 29)
  .attr("font-style", "italic").attr("text-anchor", "middle").text(xTitles[2]);

const hp = plots[0][0];
const sx = hp.p.scale("x"), sy = hp.p.scale("y");
const X = v => hp.left + sx.apply(v), Y = v => hp.top + sy.apply(v);
const ellipseBox = {x0: 1.56e-6, x1: 8.8e-4, y0: 2.3e-8, y1: 3.3e-3};
const arrowPts = {start: [7.46e-4, 1.26e-6], ctrl: [8.85e-3, 4.6e-8], end: [0.146, 6.3e-8]};
const labelAnchor = [0.1845, 2.9e-8];
const ex0 = X(ellipseBox.x0), ex1 = X(ellipseBox.x1), ey0 = Y(ellipseBox.y1), ey1 = Y(ellipseBox.y0);
svg.append("ellipse").attr("cx", (ex0 + ex1) / 2).attr("cy", (ey0 + ey1) / 2)
  .attr("rx", (ex1 - ex0) / 2).attr("ry", (ey1 - ey0) / 2)
  .attr("fill", "none").attr("stroke", RED).attr("stroke-width", 3.4);
const [s0, c0, e0] = [arrowPts.start, arrowPts.ctrl, arrowPts.end].map(([a, b]) => [X(a), Y(b)]);
svg.append("path").attr("d", `M${s0[0]},${s0[1]} Q${c0[0]},${c0[1]} ${e0[0] - 10},${e0[1]}`)
  .attr("fill", "none").attr("stroke", RED).attr("stroke-width", 3);
svg.append("path").attr("d", `M${e0[0] + 4},${e0[1]} L${e0[0] - 12},${e0[1] - 6} L${e0[0] - 9},${e0[1]} L${e0[0] - 12},${e0[1] + 6} Z`)
  .attr("fill", RED);
const lt = svg.append("text").attr("x", X(labelAnchor[0])).attr("y", Y(labelAnchor[1]))
  .attr("font-family", "Lato, Open Sans, sans-serif").attr("font-size", 53).attr("fill", RED)
  .attr("textLength", 611).attr("lengthAdjust", "spacingAndGlyphs");
lt.append("tspan").text("loss of sensitivity at low-");
lt.append("tspan").attr("font-family", SERIF).attr("font-style", "italic").text("x");
</script></body></html>
